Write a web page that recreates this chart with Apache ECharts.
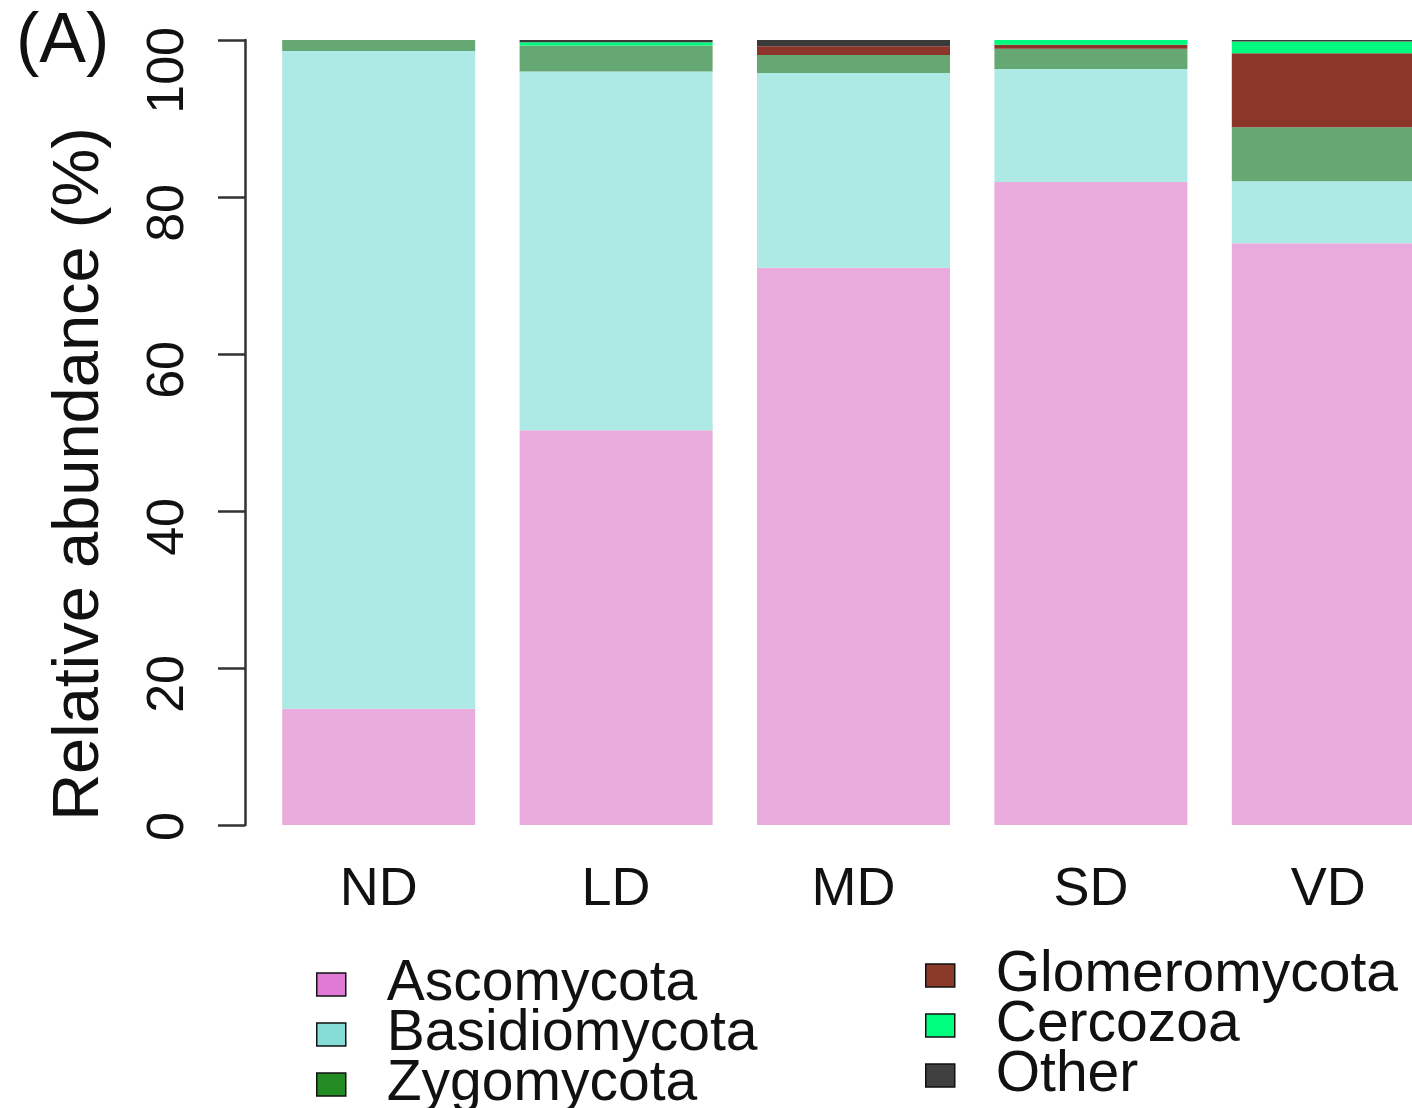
<!DOCTYPE html>
<html>
<head>
<meta charset="utf-8">
<script src="https://cdn.jsdelivr.net/npm/echarts@6/dist/echarts.min.js"></script>
<style>
html,body{margin:0;padding:0;background:#fff;}
#chart{width:1412px;height:1108px;}
</style>
</head>
<body>
<div id="chart"></div>
<script>
const categories = ['ND', 'LD', 'MD', 'SD', 'VD'];
const seriesNames = ['Ascomycota', 'Basidiomycota', 'Zygomycota', 'Glomeromycota', 'Cercozoa', 'Other'];
const ascomycota    = [14.8, 50.3, 71.0, 81.9, 74.1];
const basidiomycota = [83.8, 45.7, 24.8, 14.4, 7.9];
const zygomycota    = [1.4, 3.3, 2.3, 2.6, 6.9];
const glomeromycota = [0, 0, 1.1, 0.5, 9.4];
const cercozoa      = [0, 0.4, 0, 0.6, 1.5];
const other         = [0, 0.3, 0.8, 0, 0.2];
const yTicks = [0, 20, 40, 60, 80, 100];

const values = [ascomycota, basidiomycota, zygomycota, glomeromycota, cercozoa, other];
const barColors = ['#E9ACDC', '#AEEAE5', '#66A874', '#8B3628', '#00FA7D', '#3A3A3A'];
const legendColors = ['#E07AD6', '#86DCD6', '#228B22', '#8B3A2A', '#00FF7F', '#404040'];

const FONT = 'Liberation Sans, Arial, Helvetica, sans-serif';
const chart = echarts.init(document.getElementById('chart'), null, {renderer: 'canvas'});

function legendData(names) {
  return names.map(n => {
    const i = seriesNames.indexOf(n);
    return {name: n, icon: 'rect', itemStyle: {color: legendColors[i], borderColor: '#111', borderWidth: 1.5}};
  });
}
const legendCommon = {
  orient: 'vertical',
  itemWidth: 29,
  itemHeight: 23,
  itemGap: -7,
  padding: 0,
  height: 200,
  selectedMode: false,
  textStyle: {fontFamily: FONT, fontSize: 57, color: '#111', lineHeight: 50, padding: [0, 0, 0, 36]}
};

chart.setOption({
  animation: false,
  backgroundColor: '#fff',
  grid: {left: 260, top: 40, width: 1187, bottom: 283, containLabel: false, outerBoundsMode: 'none'},
  legend: [
    Object.assign({left: 316, top: 956, data: legendData(['Ascomycota', 'Basidiomycota', 'Zygomycota'])}, legendCommon),
    Object.assign({left: 925, top: 947, data: legendData(['Glomeromycota', 'Cercozoa', 'Other'])}, legendCommon)
  ],
  xAxis: {
    type: 'category',
    data: categories,
    axisLine: {show: false},
    axisTick: {show: false},
    axisLabel: {fontFamily: FONT, fontSize: 54, color: '#111', margin: 38}
  },
  yAxis: {
    type: 'value',
    min: 0, max: 100, interval: 20,
    offset: 15,
    splitLine: {show: false},
    axisLine: {show: true, lineStyle: {color: '#333', width: 2.5}},
    axisTick: {show: true, inside: false, length: 27, lineStyle: {color: '#333', width: 2.5}},
    axisLabel: {
      fontFamily: FONT, fontSize: 52, color: '#111', rotate: 90, margin: 50,
      align: 'right', padding: [0, -13, 0, 0],
      customValues: yTicks
    }
  },
  graphic: [{
    type: 'text', left: 16, top: 8,
    style: {text: '(A)', font: '70px ' + FONT, fill: '#111'}
  }, {
    type: 'text', x: 80, y: 474, rotation: Math.PI / 2,
    style: {text: 'Relative abundance (%)', font: '65px ' + FONT, fill: '#111', align: 'center', verticalAlign: 'middle'}
  }],
  series: seriesNames.map((n, i) => ({
    name: n,
    type: 'bar',
    stack: 'total',
    barWidth: 193,
    data: values[i],
    itemStyle: {color: barColors[i]},
    emphasis: {disabled: true}
  }))
});
</script>
</body>
</html>
